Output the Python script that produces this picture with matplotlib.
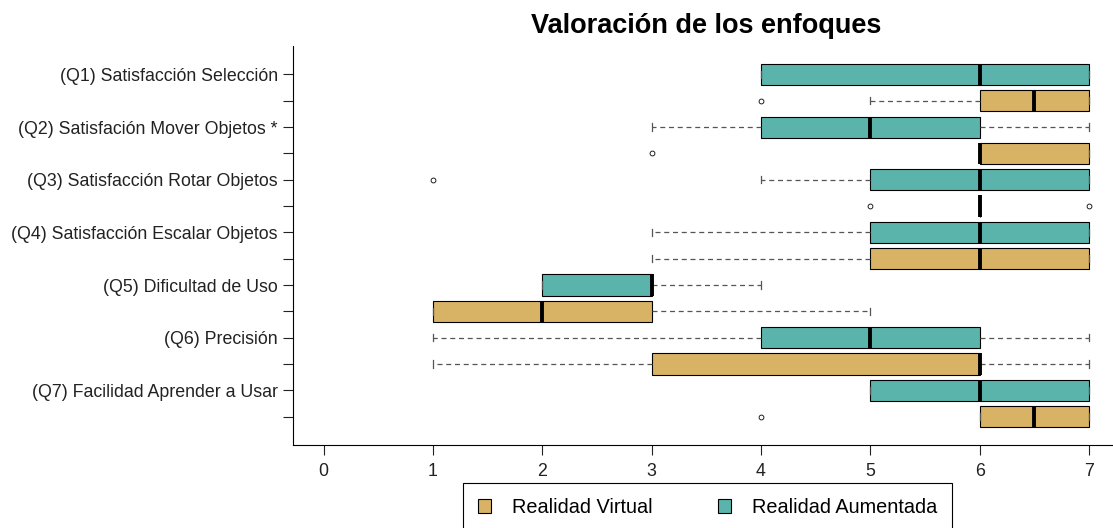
import matplotlib
matplotlib.use("Agg")
import matplotlib.pyplot as plt
from matplotlib.patches import Patch

plt.rcParams['font.family'] = ['Liberation Sans', 'DejaVu Sans']

questions = ["(Q1) Satisfacción Selección",
             "(Q2) Satisfación Mover Objetos *",
             "(Q3) Satisfacción Rotar Objetos",
             "(Q4) Satisfacción Escalar Objetos",
             "(Q5) Dificultad de Uso",
             "(Q6) Precisión",
             "(Q7) Facilidad Aprender a Usar"]

# Realidad Aumentada
ra_low = [4, 3, 4, 3, 2, 1, 5]
ra_q1 = [4, 4, 5, 5, 2, 4, 5]
ra_med = [6, 5, 6, 6, 3, 5, 6]
ra_q3 = [7, 6, 7, 7, 3, 6, 7]
ra_high = [7, 7, 7, 7, 4, 7, 7]
ra_out = [[], [], [1], [], [], [], []]

# Realidad Virtual
rv_low = [5, 6, 6, 3, 1, 1, 6]
rv_q1 = [6, 6, 6, 5, 1, 3, 6]
rv_med = [6.5, 6, 6, 6, 2, 6, 6.5]
rv_q3 = [7, 7, 6, 7, 3, 6, 7]
rv_high = [7, 7, 6, 7, 5, 7, 7]
rv_out = [[4], [3], [5, 7], [], [], [], [4]]

col_rv = "#D8B365"
col_ra = "#5AB4AC"

stats = []
colors = []
ticklabels = []
for i in range(len(questions)):
    stats.append(dict(whislo=ra_low[i], q1=ra_q1[i], med=ra_med[i], q3=ra_q3[i],
                      whishi=ra_high[i], fliers=ra_out[i]))
    colors.append(col_ra)
    ticklabels.append(questions[i])
    stats.append(dict(whislo=rv_low[i], q1=rv_q1[i], med=rv_med[i], q3=rv_q3[i],
                      whishi=rv_high[i], fliers=rv_out[i]))
    colors.append(col_rv)
    ticklabels.append("")

n = len(stats)
positions = list(range(n, 0, -1))

fig = plt.figure(figsize=(11.13, 5.28), dpi=100)
ax = fig.add_axes([0.2633, 0.158, 0.7427, 0.754])

bp = ax.bxp(stats, positions=positions, orientation='horizontal', widths=0.8,
            patch_artist=True, capwidths=0.27,
            boxprops=dict(edgecolor='black', linewidth=0.8),
            medianprops=dict(color='black', linewidth=2.8, solid_capstyle='butt'),
            whiskerprops=dict(color='#555555', linewidth=0.9, linestyle=(0, (4, 3))),
            capprops=dict(color='#555555', linewidth=0.9),
            flierprops=dict(marker='o', markersize=3.5, markerfacecolor='none',
                            markeredgecolor='black', markeredgewidth=0.6))
for patch, c in zip(bp['boxes'], colors):
    patch.set_facecolor(c)

ax.set_xlim(-0.28, 7.28)
ax.set_ylim(-0.06, 15.06)
ax.set_xticks(range(0, 8))
ax.set_yticks(positions)
ax.set_yticklabels(ticklabels)
ax.tick_params(axis='both', labelsize=12.8, length=7, width=0.8, colors='#222222')
ax.tick_params(axis='y', pad=4)
ax.tick_params(axis='x', pad=6)
ax.spines['top'].set_visible(False)
ax.spines['right'].set_visible(False)
for s in ('left', 'bottom'):
    ax.spines[s].set_linewidth(0.8)

ax.set_title("Valoración de los enfoques", fontsize=19.5, fontweight='bold', pad=10)

handles = [Patch(facecolor=col_rv, edgecolor='black', linewidth=0.8),
           Patch(facecolor=col_ra, edgecolor='black', linewidth=0.8)]
leg = fig.legend(handles, ["Realidad Virtual", "Realidad Aumentada"], ncol=2,
                 loc='upper center', bbox_to_anchor=(0.6357, 0.085), fontsize=14.3,
                 fancybox=False, edgecolor='black', framealpha=1,
                 handlelength=0.65, handleheight=0.65, handletextpad=1.06,
                 columnspacing=3.27, borderpad=0.75, borderaxespad=0)
leg.get_frame().set_linewidth(0.8)

fig.savefig("out.png", dpi=100)
